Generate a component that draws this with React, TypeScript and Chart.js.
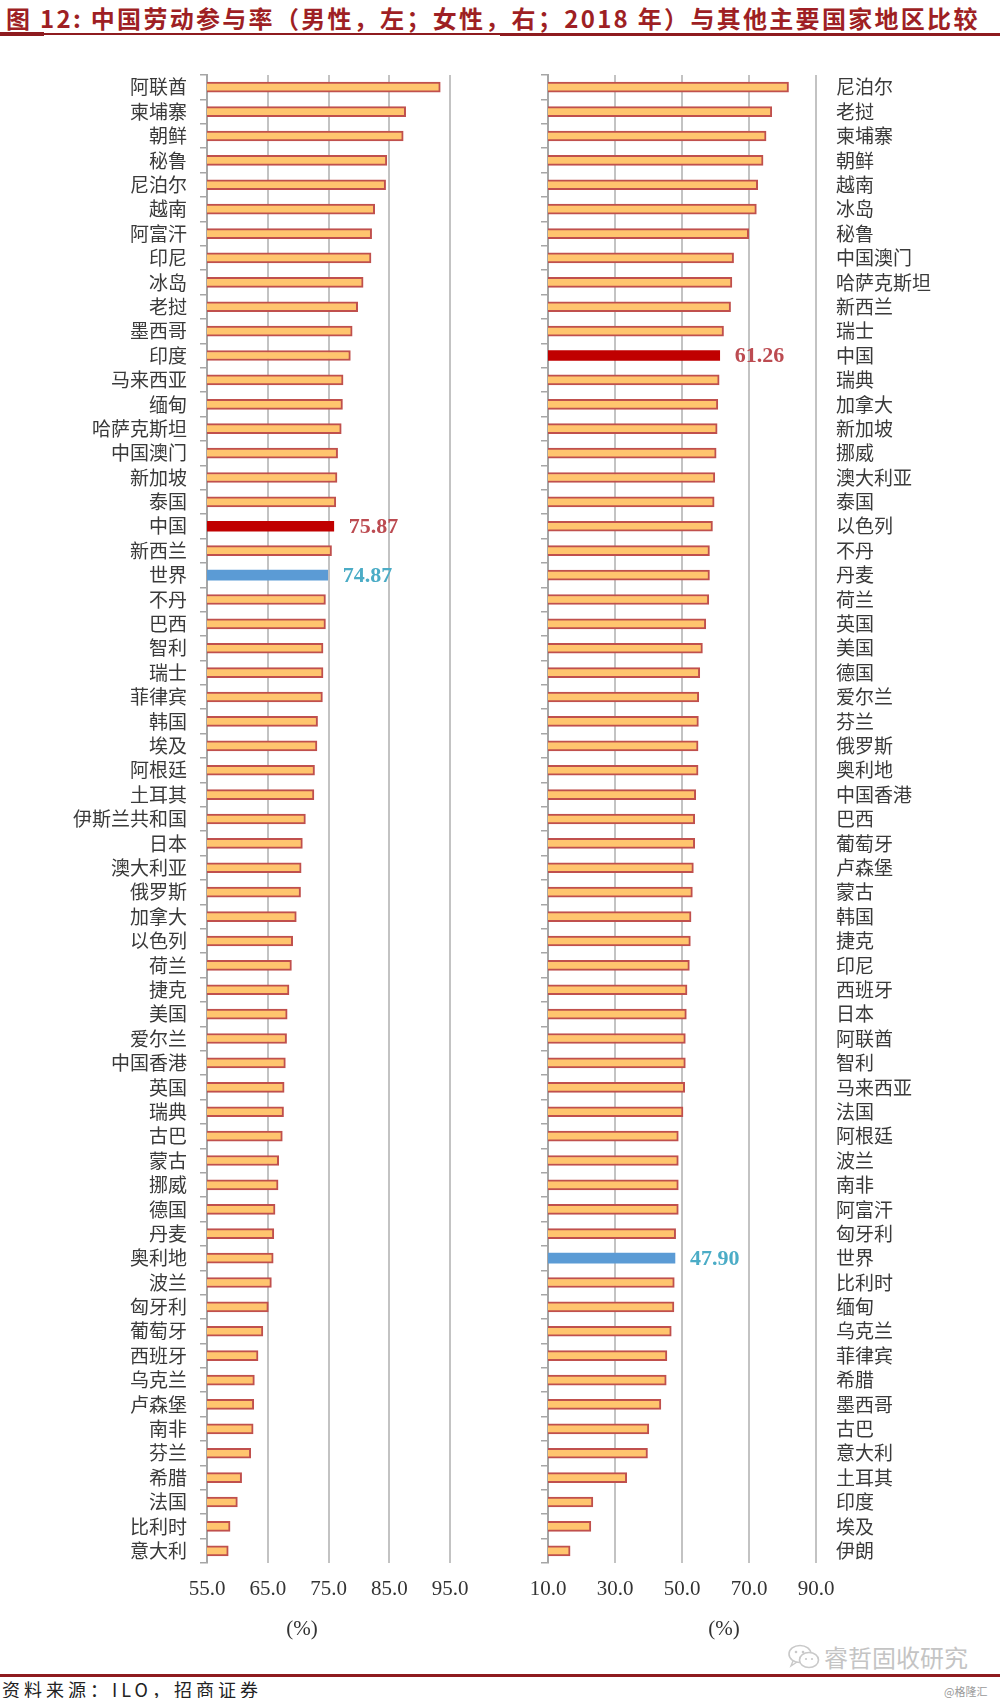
import React, { useEffect, useRef } from 'react';
import { Chart, registerables } from 'chart.js';

Chart.register(...registerables);

// ---------- data ----------
const maleCountries = ['阿联酋','柬埔寨','朝鲜','秘鲁','尼泊尔','越南','阿富汗','印尼','冰岛','老挝','墨西哥','印度','马来西亚','缅甸','哈萨克斯坦','中国澳门','新加坡','泰国','中国','新西兰','世界','不丹','巴西','智利','瑞士','菲律宾','韩国','埃及','阿根廷','土耳其','伊斯兰共和国','日本','澳大利亚','俄罗斯','加拿大','以色列','荷兰','捷克','美国','爱尔兰','中国香港','英国','瑞典','古巴','蒙古','挪威','德国','丹麦','奥利地','波兰','匈牙利','葡萄牙','西班牙','乌克兰','卢森堡','南非','芬兰','希腊','法国','比利时','意大利'];
const maleRates = [93.4, 87.7, 87.3, 84.6, 84.4, 82.6, 82.1, 82.0, 80.7, 79.8, 78.9, 78.6, 77.4, 77.3, 77.1, 76.5, 76.4, 76.2, 75.87, 75.5, 74.87, 74.5, 74.5, 74.1, 74.1, 74.0, 73.2, 73.1, 72.7, 72.6, 71.2, 70.7, 70.5, 70.4, 69.7, 69.1, 68.9, 68.5, 68.2, 68.1, 67.9, 67.7, 67.6, 67.4, 66.8, 66.7, 66.2, 66.0, 65.9, 65.6, 65.1, 64.2, 63.4, 62.8, 62.7, 62.6, 62.2, 60.7, 60.0, 58.8, 58.5];

const femaleCountries = ['尼泊尔','老挝','柬埔寨','朝鲜','越南','冰岛','秘鲁','中国澳门','哈萨克斯坦','新西兰','瑞士','中国','瑞典','加拿大','新加坡','挪威','澳大利亚','泰国','以色列','不丹','丹麦','荷兰','英国','美国','德国','爱尔兰','芬兰','俄罗斯','奥利地','中国香港','巴西','葡萄牙','卢森堡','蒙古','韩国','捷克','印尼','西班牙','日本','阿联酋','智利','马来西亚','法国','阿根廷','波兰','南非','阿富汗','匈牙利','世界','比利时','缅甸','乌克兰','菲律宾','希腊','墨西哥','古巴','意大利','土耳其','印度','埃及','伊朗'];
const femaleRates = [81.8, 76.8, 75.1, 74.2, 72.6, 72.2, 69.9, 65.4, 64.9, 64.5, 62.4, 61.26, 61.1, 60.7, 60.5, 60.2, 59.8, 59.6, 59.1, 58.2, 58.2, 58.0, 57.1, 56.1, 55.3, 55.0, 54.9, 54.8, 54.8, 54.1, 53.8, 53.8, 53.4, 53.1, 52.7, 52.5, 52.2, 51.5, 51.3, 51.0, 51.0, 50.8, 50.3, 48.9, 48.9, 48.9, 48.9, 48.1, 47.90, 47.7, 47.6, 46.8, 45.5, 45.3, 43.7, 40.1, 39.7, 33.5, 23.4, 22.8, 16.6];

const maleTicks = [55, 65, 75, 85, 95];
const femaleTicks = [10, 30, 50, 70, 90];

const titleText = '图 12: 中国劳动参与率（男性，左；女性，右；2018 年）与其他主要国家地区比较';
const sourceText = '资料来源：ILO，招商证券';
const unitText = '(%)';
const watermarkText = '睿哲固收研究';
const creditText = '@格隆汇';

const CHINA = '中国';
const WORLD = '世界';

// ---------- styling ----------
const ORANGE = '#FFC56E';
const ORANGE_BORDER = '#C0504D';
const CHINA_COLOR = '#C00000';
const WORLD_COLOR = '#5B9BD5';
const GRID = '#C3C3C3';
const AXIS = '#A6A6A6';
const LABEL_FONT = "'Noto Sans CJK SC', sans-serif";
const NUM_FONT = "'Liberation Serif', 'DejaVu Serif', serif";

const valueLabelPlugin = {
  id: 'valueLabels',
  afterDatasetsDraw(chart: any) {
    const ctx = chart.ctx;
    const meta = chart.getDatasetMeta(0);
    const labels = chart.data.labels as string[];
    const data = chart.data.datasets[0].data as number[];
    labels.forEach((l, i) => {
      if (l !== CHINA && l !== WORLD) return;
      const el = meta.data[i];
      ctx.save();
      ctx.font = `bold 22px ${NUM_FONT}`;
      ctx.fillStyle = l === CHINA ? '#BC4B51' : '#4BACC6';
      ctx.textBaseline = 'middle';
      ctx.textAlign = 'left';
      ctx.fillText(Number(data[i]).toFixed(2), el.x + 15, el.y + 1);
      ctx.restore();
    });
  },
};

function barStyles(labels: string[]) {
  return {
    backgroundColor: labels.map((l) => (l === CHINA ? CHINA_COLOR : l === WORLD ? WORLD_COLOR : ORANGE)),
    borderColor: labels.map((l) => (l === CHINA ? CHINA_COLOR : l === WORLD ? WORLD_COLOR : ORANGE_BORDER)),
    borderWidth: labels.map((l) => (l === CHINA || l === WORLD ? 0 : 2)),
  };
}

function xScale(min: number, max: number, ticks: number[]) {
  return {
    type: 'linear',
    min,
    max,
    afterBuildTicks: (s: any) => {
      s.ticks = ticks.map((v) => ({ value: v }));
    },
    afterFit: (s: any) => {
      s.height = 57;
    },
    ticks: {
      callback: (v: any) => Number(v).toFixed(1),
      font: { family: NUM_FONT, size: 21 },
      color: '#333333',
      padding: 14,
      maxRotation: 0,
    },
    grid: { color: GRID, lineWidth: 2, drawTicks: false },
    border: { display: false },
  };
}

function leftConfig(): any {
  const st = barStyles(maleCountries);
  return {
    type: 'bar',
    data: {
      labels: maleCountries,
      datasets: [
        {
          data: maleRates,
          ...st,
          borderSkipped: false,
          barThickness: 10,
        },
      ],
    },
    options: {
      indexAxis: 'y',
      responsive: false,
      maintainAspectRatio: false,
      animation: false,
      devicePixelRatio: 1,
      layout: { padding: { top: 35, right: 50, left: 0, bottom: 0 } },
      plugins: { legend: { display: false }, tooltip: { enabled: false } },
      scales: {
        x: xScale(55, 95, maleTicks),
        y: {
          type: 'category',
          offset: true,
          afterFit: (s: any) => {
            s.width = 207;
          },
          grid: { offset: true, drawOnChartArea: false, drawTicks: true, tickLength: 7, color: AXIS, lineWidth: 1.5 },
          border: { display: true, color: AXIS, width: 2 },
          ticks: { font: { family: LABEL_FONT, size: 19 }, color: '#3A3A3A', padding: 13, autoSkip: false },
        },
      },
    },
    plugins: [valueLabelPlugin],
  };
}

function rightConfig(): any {
  const st = barStyles(femaleCountries);
  return {
    type: 'bar',
    data: {
      labels: femaleCountries,
      datasets: [
        {
          data: femaleRates,
          ...st,
          borderSkipped: false,
          barThickness: 10,
          yAxisID: 'y',
        },
      ],
    },
    options: {
      indexAxis: 'y',
      responsive: false,
      maintainAspectRatio: false,
      animation: false,
      devicePixelRatio: 1,
      layout: { padding: { top: 35, right: 0, left: 0, bottom: 0 } },
      plugins: { legend: { display: false }, tooltip: { enabled: false } },
      scales: {
        x: xScale(10, 90, femaleTicks),
        y: {
          type: 'category',
          position: 'left',
          offset: true,
          afterFit: (s: any) => {
            s.width = 48;
          },
          grid: { offset: true, drawOnChartArea: false, drawTicks: true, tickLength: 7, color: AXIS, lineWidth: 1.5 },
          border: { display: true, color: AXIS, width: 2 },
          ticks: { display: false, autoSkip: false },
        },
        y2: {
          type: 'category',
          position: 'right',
          offset: true,
          labels: femaleCountries,
          afterFit: (s: any) => {
            s.width = 184;
          },
          grid: { offset: true, drawOnChartArea: false, drawTicks: false },
          border: { display: false },
          ticks: { font: { family: LABEL_FONT, size: 19 }, color: '#3A3A3A', padding: 20, autoSkip: false },
        },
      },
    },
    plugins: [valueLabelPlugin],
  };
}

function WeChatIcon() {
  return (
    <svg width="34" height="28" viewBox="0 0 34 28" style={{ position: 'absolute', left: 787, top: 1643 }}>
      <ellipse cx="13" cy="11" rx="11" ry="8.5" fill="none" stroke="#C9C9C9" strokeWidth="1.6" />
      <ellipse cx="22" cy="17" rx="9.5" ry="7.5" fill="#fff" stroke="#C9C9C9" strokeWidth="1.6" />
      <circle cx="9" cy="9" r="1.3" fill="#C9C9C9" />
      <circle cx="16" cy="9" r="1.3" fill="#C9C9C9" />
      <circle cx="19" cy="16" r="1.1" fill="#C9C9C9" />
      <circle cx="25" cy="16" r="1.1" fill="#C9C9C9" />
      <path d="M6 18 L4 23 L10 19" fill="none" stroke="#C9C9C9" strokeWidth="1.4" />
    </svg>
  );
}

export default function App() {
  const leftRef = useRef<HTMLCanvasElement>(null);
  const rightRef = useRef<HTMLCanvasElement>(null);

  useEffect(() => {
    const c1 = new Chart(leftRef.current as HTMLCanvasElement, leftConfig());
    const c2 = new Chart(rightRef.current as HTMLCanvasElement, rightConfig());
    return () => {
      c1.destroy();
      c2.destroy();
    };
  }, []);

  return (
    <div
      style={{
        position: 'absolute',
        left: 0,
        top: 0,
        width: 1000,
        height: 1698,
        overflow: 'hidden',
        background: '#ffffff',
      }}
    >
      <div
        style={{
          position: 'absolute',
          left: 6,
          top: 3,
          fontFamily: LABEL_FONT,
          fontWeight: 700,
          fontSize: 24,
          lineHeight: '30px',
          letterSpacing: '2.3px',
          color: '#9E1F24',
          whiteSpace: 'nowrap',
        }}
      >
        {titleText}
      </div>
      <div style={{ position: 'absolute', left: 0, top: 33, width: 1000, height: 2, background: '#8E1B1F' }} />
      <div style={{ position: 'absolute', left: 0, top: 32, width: 44, height: 4, background: '#8E1B1F' }} />
      <div style={{ position: 'absolute', left: 500, top: 33, width: 500, height: 3, background: '#8E1B1F' }} />

      <canvas ref={leftRef} width={500} height={1580} style={{ position: 'absolute', left: 0, top: 40 }} />
      <canvas ref={rightRef} width={500} height={1580} style={{ position: 'absolute', left: 500, top: 40 }} />

      <div
        style={{
          position: 'absolute',
          left: 272,
          width: 60,
          top: 1615,
          textAlign: 'center',
          fontFamily: NUM_FONT,
          fontSize: 21,
          lineHeight: '26px',
          color: '#333333',
        }}
      >
        {unitText}
      </div>
      <div
        style={{
          position: 'absolute',
          left: 694,
          width: 60,
          top: 1615,
          textAlign: 'center',
          fontFamily: NUM_FONT,
          fontSize: 21,
          lineHeight: '26px',
          color: '#333333',
        }}
      >
        {unitText}
      </div>

      <WeChatIcon />
      <div
        style={{
          position: 'absolute',
          left: 824,
          top: 1642,
          fontFamily: LABEL_FONT,
          fontSize: 24,
          lineHeight: '30px',
          color: '#C4C4C4',
          whiteSpace: 'nowrap',
        }}
      >
        {watermarkText}
      </div>

      <div style={{ position: 'absolute', left: 0, top: 1674, width: 1000, height: 3, background: '#8E1B1F' }} />
      <div
        style={{
          position: 'absolute',
          left: 2,
          top: 1680,
          fontFamily: LABEL_FONT,
          fontSize: 18,
          lineHeight: '18px',
          letterSpacing: '4px',
          color: '#222222',
          whiteSpace: 'nowrap',
        }}
      >
        {sourceText}
      </div>
      <div
        style={{
          position: 'absolute',
          left: 944,
          top: 1684,
          fontFamily: LABEL_FONT,
          fontSize: 11,
          lineHeight: '14px',
          color: '#9A9A9A',
          whiteSpace: 'nowrap',
        }}
      >
        {creditText}
      </div>
    </div>
  );
}
